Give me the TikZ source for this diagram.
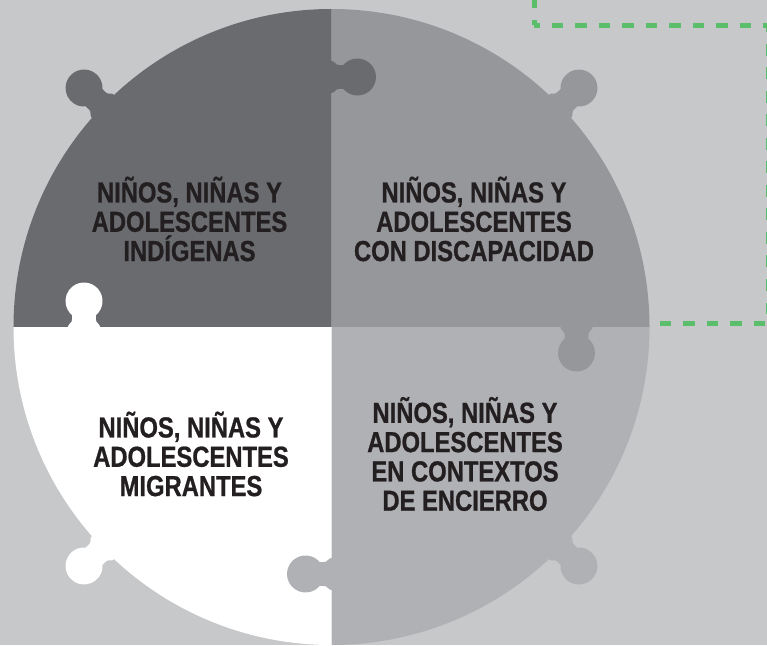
\documentclass[tikz,border=0pt]{standalone}
\usepackage{fontspec}
\newfontfamily\piecefont{Liberation Sans}[FakeStretch=0.82,FakeBold=0.8]
\usetikzlibrary{calc}
\usetikzlibrary{positioning}
\definecolor{bggray}{HTML}{C7C8CA}
\definecolor{darkpiece}{HTML}{6A6B6F}
\definecolor{midpiece}{HTML}{96979B}
\definecolor{lightpiece}{HTML}{B0B1B4}
\definecolor{dashgreen}{HTML}{5BBE6B}
\definecolor{textdark}{HTML}{231F20}
\tikzset{
  pics/knob/.style={code={
    \path[pic actions] (-4,-16) -- (0,-16) .. controls (3,-16) and (4,-12) .. (7,-12) -- (11.9,-12)
      arc[start angle=-139.6, end angle=139.6, radius=18.5]
      -- (7,12) .. controls (4,12) and (3,16) .. (0,16) -- (-4,16) -- cycle;
  }}
}
\begin{document}
\begin{tikzpicture}[x=1pt,y=1pt]
  \tikzstyle{piecetext}=[font=\piecefont\bfseries\fontsize{29}{29.3}\selectfont, text=textdark, align=center, inner sep=0pt]
  \tikzstyle{greenline}=[draw=dashgreen, line width=5pt, dash pattern=on 11.7pt off 11.8pt, dash phase=6pt]
  \useasboundingbox (-331.5,-318) rectangle (435.5,327);
  \fill[bggray] (-331.5,-318) rectangle (435.5,327);
  \coordinate (c) at (0,0);
  % dashed frame behind the puzzle
  \coordinate (corner) at (202.5,301.5);
  \draw[greenline] (corner) -- (202.5,340);
  \draw[greenline] (corner) -- (436.5,301.5) -- (436.5,3.8) -- (250,3.8);
  % four pieces
  \fill[darkpiece] (c) -- (180:318) arc[start angle=180, end angle=90, radius=318] -- cycle;
  \fill[midpiece] (c) -- (90:318) arc[start angle=90, end angle=0, radius=318] -- cycle;
  \fill[lightpiece] (c) -- (0:318) arc[start angle=0, end angle=-90, radius=318] -- cycle;
  \fill[white] (c) -- (-90:318) arc[start angle=-90, end angle=-180, radius=318] -- cycle;
  % outer knobs
  \pic[fill=darkpiece, rotate=136] at (136:318) {knob};
  \pic[fill=midpiece, rotate=44] at (44:318) {knob};
  \pic[fill=lightpiece, rotate=-44] at (-44:318) {knob};
  \pic[fill=white, rotate=224] at (224:318) {knob};
  % knobs on the seams
  \pic[fill=darkpiece, rotate=0] at (0,250) {knob};
  \pic[fill=midpiece, rotate=-90] at (245,0) {knob};
  \pic[fill=lightpiece, rotate=180] at (0,-247) {knob};
  \pic[fill=white, rotate=90] at (-247.5,0) {knob};
  % labels
  \node[piecetext] (indigenas) at (-142,108) {NIÑOS, NIÑAS Y\\ADOLESCENTES\\INDÍGENAS};
  \node[piecetext] (discapacidad) at (142.5,108) {NIÑOS, NIÑAS Y\\ADOLESCENTES\\CON DISCAPACIDAD};
  \node[piecetext] (migrantes) at (-140.5,-127) {NIÑOS, NIÑAS Y\\ADOLESCENTES\\MIGRANTES};
  \node[piecetext] (encierro) at (133.5,-127) {NIÑOS, NIÑAS Y\\ADOLESCENTES\\EN CONTEXTOS\\DE ENCIERRO};
\end{tikzpicture}
\end{document}
